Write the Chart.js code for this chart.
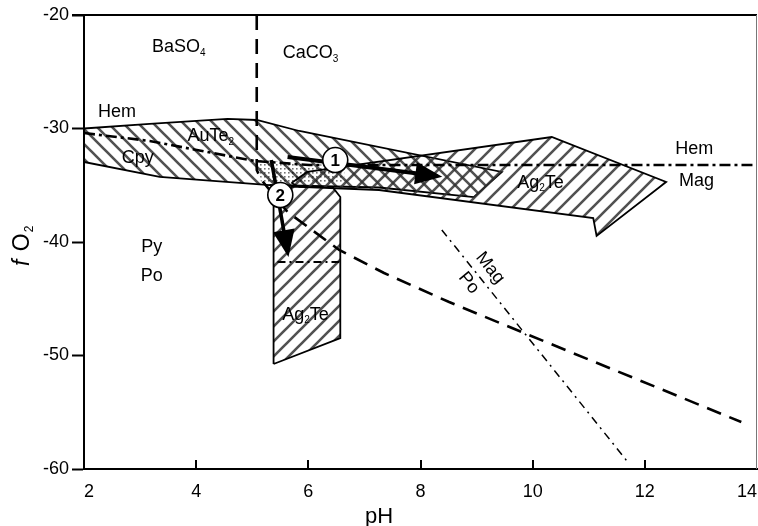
<!DOCTYPE html>
<html>
<head>
<meta charset="utf-8">
<script src="https://cdn.jsdelivr.net/npm/chart.js@4.4.0/dist/chart.umd.min.js"></script>
<style>
html, body { margin: 0; padding: 0; background: #fff; }
#wrap { width: 758px; height: 526px; position: relative; }
</style>
</head>
<body>
<div id="wrap"><canvas id="c"></canvas></div>
<script>
// axes (pH vs log fO2)
const xTicks = [2, 4, 6, 8, 10, 12, 14];
const yTicks = [-60, -50, -40, -30, -20];

// hatched stability fields, [pH, log fO2]
const auTe2Zone = [[2, -30], [3.17, -29.6], [4.56, -29.16], [5.08, -29.25], [5.84, -30.22], [9.45, -33.83],
  [8.95, -36.04], [7.26, -35.2], [5.31, -34.98], [3.35, -34.27], [2, -32.95], [2, -30]];
const ag2TeUpper = [[5.7, -34.8], [5.98, -33.83], [10.34, -30.75], [12.38, -34.71], [11.14, -39.47],
  [11.08, -37.89], [7.26, -35.42], [5.84, -35.15], [5.7, -34.8]];
const ag2TeLower = [[5.38, -50.75], [5.38, -36.83], [5.48, -35.68], [5.7, -35.15], [6.43, -35.15],
  [6.57, -36.04], [6.57, -48.46], [5.38, -50.75]];
const stippleZone = [[5.09, -32.78], [6.64, -33.3], [6.64, -34.71], [5.16, -34.8], [5.09, -32.78]];

// boundaries
const sulfateCarbonate = [[5.08, -20], [5.08, -33.66], [5.16, -34.5], [5.63, -37.36], [6.55, -40.7],
  [7.35, -42.73], [8.51, -45.29], [9.93, -48.19], [13.72, -55.86]];
const hemMag = [[2, -30.4], [3.17, -31.1], [5.04, -32.86], [6.02, -33.22], [14, -33.22]];
const boxLine = [[5.45, -41.76], [6.55, -41.76]];
const magPo = [[8.38, -38.94], [11.71, -59.47]];

// paths
const arrow1 = [[5.63, -32.51], [8.3, -34.19]];
const arrow2 = [[5.34, -32.78], [5.63, -40.88]];
const circleX = [6.48, 5.5];
const circleY = [-32.78, -35.86];
const circleText = ['1', '2'];

// field labels ("_" marks a subscript character)
const labelText = ['BaSO_4', 'CaCO_3', 'Hem', 'AuTe_2', 'Cpy', 'Py', 'Po', 'Ag_2Te', 'Ag_2Te', 'Hem', 'Mag', 'Mag', 'Po'];
const labelX = [3.69, 6.04, 2.59, 4.26, 2.96, 3.21, 3.21, 5.95, 10.14, 12.88, 12.92, 9.24, 8.86];
const labelY = [-22.82, -23.35, -28.55, -30.66, -32.6, -40.44, -43.0, -46.43, -34.8, -31.81, -34.63, -42.29, -43.61];
const labelAngle = [0, 0, 0, 0, 0, 0, 0, 0, 0, 0, 0, 51, 51];

const FONT = '"Liberation Sans", Arial, sans-serif';
Chart.defaults.font.family = FONT;
Chart.defaults.color = '#000';

const pts = arr => arr.map(p => ({ x: p[0], y: p[1] }));

function hatch(dir, size) {
  const c = document.createElement('canvas');
  c.width = c.height = size;
  const g = c.getContext('2d');
  g.strokeStyle = 'rgba(50,50,50,0.85)';
  g.lineWidth = 2.6;
  g.beginPath();
  if (dir > 0) {
    g.moveTo(0, size); g.lineTo(size, 0);
    g.moveTo(-size / 2, size / 2); g.lineTo(size / 2, -size / 2);
    g.moveTo(size / 2, size * 1.5); g.lineTo(size * 1.5, size / 2);
  } else {
    g.moveTo(0, 0); g.lineTo(size, size);
    g.moveTo(-size / 2, size / 2); g.lineTo(size / 2, size * 1.5);
    g.moveTo(size / 2, -size / 2); g.lineTo(size * 1.5, size / 2);
  }
  g.stroke();
  return g.createPattern(c, 'repeat');
}

function dots() {
  const c = document.createElement('canvas');
  c.width = c.height = 4;
  const g = c.getContext('2d');
  g.fillStyle = 'rgba(0,0,0,0.55)';
  g.fillRect(0, 0, 1.6, 1.6);
  return g.createPattern(c, 'repeat');
}

function zone(data, fillStyle, order) {
  return { data: pts(data), borderColor: '#000', borderWidth: 1.8, backgroundColor: fillStyle,
    fill: 'shape', pointRadius: 0, order: order, tension: 0 };
}
function line(data, width, dash, order) {
  return { data: pts(data), borderColor: '#000', borderWidth: width, borderDash: dash,
    fill: false, pointRadius: 0, order: order };
}

function drawRich(ctx, str, size) {
  const segs = [];
  for (let i = 0; i < str.length; i++) {
    if (str[i] === '_') { segs.push([str[i + 1], true]); i++; }
    else if (segs.length && !segs[segs.length - 1][1]) segs[segs.length - 1][0] += str[i];
    else segs.push([str[i], false]);
  }
  const sub = Math.round(size * 0.55);
  let w = 0;
  segs.forEach(s => { ctx.font = (s[1] ? sub : size) + 'px ' + FONT; s.push(ctx.measureText(s[0]).width); w += s[2]; });
  let x = -w / 2;
  ctx.textAlign = 'left';
  ctx.textBaseline = 'middle';
  segs.forEach(s => {
    ctx.font = (s[1] ? sub : size) + 'px ' + FONT;
    ctx.fillText(s[0], x, s[1] ? size * 0.32 : 0);
    x += s[2];
  });
}

const decor = {
  id: 'decor',
  afterDatasetsDraw(chart) {
    const ctx = chart.ctx, xs = chart.scales.x, ys = chart.scales.y;
    // arrow heads
    chart.data.datasets.forEach((ds, i) => {
      if (!ds.arrow) return;
      const m = chart.getDatasetMeta(i).data;
      const a = m[m.length - 2], b = m[m.length - 1];
      const ang = Math.atan2(b.y - a.y, b.x - a.x);
      ctx.save();
      ctx.translate(b.x, b.y);
      ctx.rotate(ang);
      ctx.beginPath();
      ctx.moveTo(5, 0);
      ctx.lineTo(-22, -11);
      ctx.lineTo(-22, 11);
      ctx.closePath();
      ctx.fillStyle = '#000';
      ctx.fill();
      ctx.restore();
    });
    // circles with numbers
    const cm = chart.getDatasetMeta(chart.data.datasets.findIndex(d => d.circles)).data;
    cm.forEach((p, i) => {
      ctx.save();
      ctx.beginPath();
      ctx.arc(p.x, p.y, 12.5, 0, Math.PI * 2);
      ctx.fillStyle = '#fff';
      ctx.fill();
      ctx.lineWidth = 1.6;
      ctx.strokeStyle = '#000';
      ctx.stroke();
      ctx.fillStyle = '#000';
      ctx.font = 'bold 17px ' + FONT;
      ctx.textAlign = 'center';
      ctx.textBaseline = 'middle';
      ctx.fillText(circleText[i], p.x, p.y + 1);
      ctx.restore();
    });
    // field labels
    labelText.forEach((t, i) => {
      ctx.save();
      ctx.fillStyle = '#000';
      ctx.translate(xs.getPixelForValue(labelX[i]), ys.getPixelForValue(labelY[i]));
      ctx.rotate(labelAngle[i] * Math.PI / 180);
      drawRich(ctx, t, 18);
      ctx.restore();
    });
  },
  afterDraw(chart) {
    const ctx = chart.ctx, a = chart.chartArea, xs = chart.scales.x;
    ctx.save();
    ctx.strokeStyle = '#000';
    ctx.lineWidth = 2;
    ctx.beginPath();
    ctx.moveTo(a.left - 12, a.top);
    ctx.lineTo(a.right, a.top);
    ctx.stroke();
    ctx.lineWidth = 1;
    ctx.strokeStyle = '#777';
    ctx.beginPath();
    ctx.moveTo(a.right - 0.5, a.top);
    ctx.lineTo(a.right - 0.5, a.bottom);
    ctx.stroke();
    // inward x ticks
    ctx.strokeStyle = '#000';
    ctx.lineWidth = 2;
    xTicks.slice(1, -1).forEach(v => {
      const px = Math.round(xs.getPixelForValue(v));
      ctx.beginPath();
      ctx.moveTo(px, a.bottom);
      ctx.lineTo(px, a.bottom - 9);
      ctx.stroke();
    });
    // axis titles
    ctx.fillStyle = '#000';
    ctx.font = '22px ' + FONT;
    ctx.textAlign = 'center';
    ctx.textBaseline = 'alphabetic';
    ctx.fillText('pH', 379, 523);
    ctx.translate(29, 266);
    ctx.rotate(-Math.PI / 2);
    ctx.textAlign = 'left';
    ctx.font = 'italic 23px ' + FONT;
    ctx.fillText('f', 0, 0);
    let w = ctx.measureText('f ').width + 2;
    ctx.font = '23px ' + FONT;
    ctx.fillText('O', w, 0);
    w += ctx.measureText('O').width + 1;
    ctx.font = '12px ' + FONT;
    ctx.fillText('2', w, 4);
    ctx.restore();
  }
};

new Chart(document.getElementById('c'), {
  type: 'line',
  data: {
    datasets: [
      zone(auTe2Zone, hatch(-1, 15), 9),
      zone(ag2TeUpper, hatch(1, 16), 8),
      zone(ag2TeLower, hatch(1, 15), 8),
      Object.assign(zone(stippleZone, dots(), 7), { borderWidth: 0 }),
      line(sulfateCarbonate, 2.6, [15, 9], 5),
      line(hemMag, 2.6, [11, 4, 3, 4], 5),
      line(boxLine, 2, [8, 4, 2, 4], 5),
      line(magPo, 1.5, [8, 5, 2, 5], 5),
      Object.assign(line(arrow1, 4, [], 3), { arrow: true }),
      Object.assign(line(arrow2, 3.6, [], 3), { arrow: true }),
      { data: circleX.map((x, i) => ({ x: x, y: circleY[i] })), showLine: false, pointRadius: 0,
        circles: true, order: 1 }
    ]
  },
  options: {
    responsive: true,
    maintainAspectRatio: false,
    animation: false,
    layout: { padding: { top: 15, right: 1, left: 0, bottom: 0 } },
    plugins: { legend: { display: false }, tooltip: { enabled: false } },
    scales: {
      x: {
        type: 'linear', min: 2, max: 14,
        afterBuildTicks: s => { s.ticks = xTicks.map(v => ({ value: v })); },
        afterFit: s => { s.height = 57; s.paddingRight = 0; s.paddingLeft = 0; },
        ticks: { font: { size: 18 }, color: '#000', padding: 12, maxRotation: 0, align: 'inner' },
        grid: { display: true, drawOnChartArea: false, drawTicks: false },
        border: { color: '#000', width: 2 }
      },
      y: {
        type: 'linear', min: -60, max: -20,
        afterBuildTicks: s => { s.ticks = yTicks.map(v => ({ value: v })); },
        afterFit: s => { s.width = 84; },
        ticks: { font: { size: 18 }, color: '#000', padding: 3 },
        grid: { display: true, drawOnChartArea: false, tickLength: 12, tickColor: '#000', tickWidth: 2 },
        border: { color: '#000', width: 2 }
      }
    }
  },
  plugins: [decor]
});
</script>
</body>
</html>
